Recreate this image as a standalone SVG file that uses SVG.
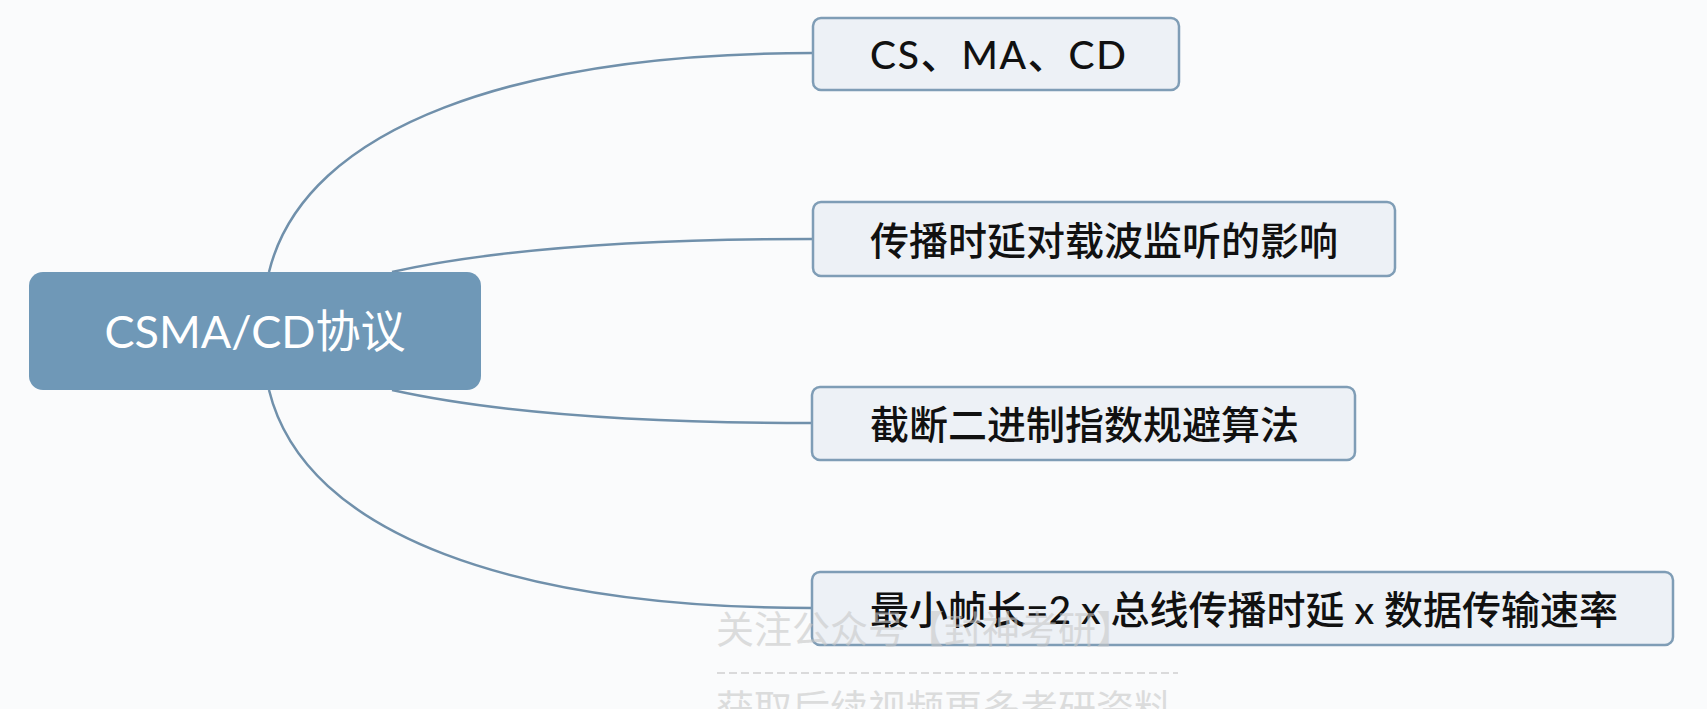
<svg xmlns="http://www.w3.org/2000/svg" width="1707" height="709" viewBox="0 0 1707 709">
<style>
.bg{fill:#fafbfc}
.root rect{fill:#6f98b7}
.root text{fill:#ffffff;font-family:"Lato","Noto Sans CJK SC",sans-serif;font-size:45px;dominant-baseline:central;text-anchor:middle}
.child rect{fill:#edf1f6;stroke:#7f9db6;stroke-width:2.5}
.child text{fill:#111111;font-family:"Lato","Noto Sans CJK SC",sans-serif;font-size:39px;font-weight:500;dominant-baseline:central}
.conn path{fill:none;stroke:#7090ab;stroke-width:2.5}
.wm{fill:#c8c8c8;opacity:0.6;font-family:"Noto Sans CJK SC",sans-serif;font-size:38px}
</style>
<rect class="bg" x="0" y="0" width="1707" height="709"/>
<g id="connectors" class="conn">
<path d="M269,272 C305,125 520,53 813,53"/>
<path d="M392,272 C500,248 650,239 813,239"/>
<path d="M392,390 C500,414 650,423 812,423"/>
<path d="M269,390 C305,537 520,608 812,608"/>
</g>
<g id="root" class="root">
<rect x="29" y="272" width="452" height="118" rx="14"/>
<text x="255" y="331">CSMA/CD协议</text>
</g>
<g id="n1" class="child">
<rect x="813" y="18" width="366" height="72" rx="8"/>
<text x="870" y="54" textLength="256" lengthAdjust="spacing">CS、MA、CD</text>
</g>
<g id="n2" class="child">
<rect x="813" y="202" width="582" height="74" rx="8"/>
<text x="870" y="240">传播时延对载波监听的影响</text>
</g>
<g id="n3" class="child">
<rect x="812" y="387" width="543" height="73" rx="8"/>
<text x="870" y="424">截断二进制指数规避算法</text>
</g>
<g id="n4" class="child">
<rect x="812" y="572" width="861" height="73" rx="8"/>
<text x="870" y="609">最小帧长=2 x 总线传播时延 x 数据传输速率</text>
</g>
<g id="watermark">
<text class="wm" x="716" y="643">关注公众号【封神考研】</text>
<line x1="717" y1="673" x2="1178" y2="673" stroke="#d0d0d0" stroke-width="1.5" stroke-dasharray="8,4"/>
<text class="wm" x="716" y="722">获取后续视频更多考研资料</text>
</g>
</svg>
